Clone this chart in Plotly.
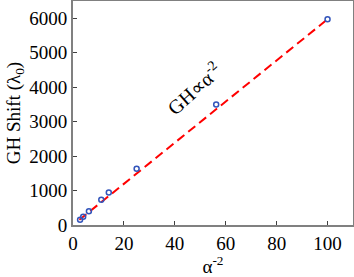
import plotly.graph_objects as go

alpha_inv_sq = [2.78, 4.0, 6.25, 11.11, 14.06, 25.0, 56.25, 100.0]
gh_shift = [150, 240, 400, 730, 940, 1630, 3500, 5970]
fit_x = [2.5, 100.0]
fit_y = [150, 5970]
x_ticks = [0, 20, 40, 60, 80, 100]
y_ticks = [0, 1000, 2000, 3000, 4000, 5000, 6000]

font = dict(family="Liberation Serif, Times New Roman, serif", size=19, color="black")

fig = go.Figure()
fig.add_trace(go.Scatter(x=fit_x, y=fit_y, mode="lines",
                         line=dict(color="red", width=2, dash="9px,5px"), showlegend=False))
fig.add_trace(go.Scatter(x=alpha_inv_sq, y=gh_shift, mode="markers",
                         marker=dict(symbol="circle-open", size=5, color="#3355bb",
                                     line=dict(width=1.5, color="#3355bb")),
                         showlegend=False))
fig.add_annotation(x=47.5, y=3980, text="GH∝α<sup>-2</sup>", showarrow=False,
                   textangle=-42, font=dict(family=font["family"], size=20, color="black"))

axis_common = dict(showline=True, linecolor="#808080", linewidth=2, mirror=True,
                   ticks="inside", ticklen=4, tickcolor="#404040", tickwidth=1,
                   showgrid=False, zeroline=False, tickfont=font, automargin=False)
fig.update_xaxes(range=[0, 110], tickvals=x_ticks,
                 title=dict(text="α<sup>-2</sup>", font=font, standoff=2), **axis_common)
fig.update_yaxes(range=[0, 6500], tickvals=y_ticks,
                 title=dict(text="GH Shift (λ<sub>0</sub>)", font=font, standoff=4), **axis_common)
fig.update_layout(width=354, height=277, margin=dict(l=73, r=1, t=1, b=52),
                  plot_bgcolor="white", paper_bgcolor="white", font=font)
fig.write_html("out.html", config={"displayModeBar": False},
               post_script="document.body.style.margin='0';")
